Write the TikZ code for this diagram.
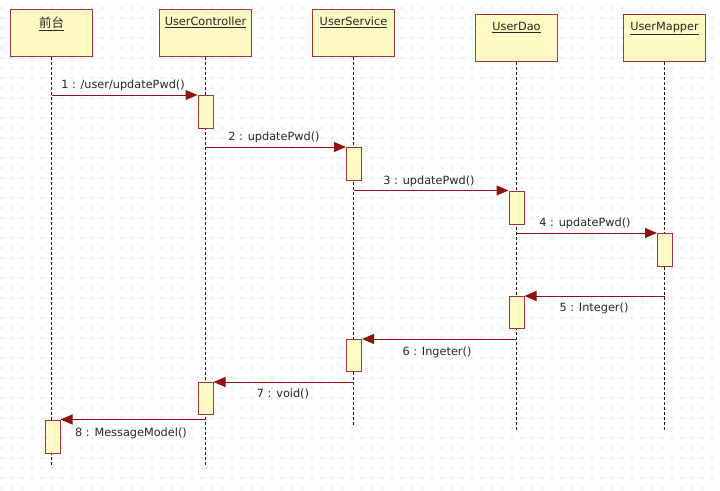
\documentclass[tikz,border=0pt]{standalone}
\usepackage{fontspec}
\setmainfont{DejaVu Sans}
\newfontfamily\cjk{Noto Sans CJK SC}
\usetikzlibrary{arrows.meta}
\definecolor{boxfill}{HTML}{FFFAC4}
\definecolor{boxdraw}{HTML}{A0353A}
\definecolor{msgcol}{HTML}{8E1414}
\begin{document}
\begin{tikzpicture}[x=1pt,y=-1pt, font=\fontsize{11.3}{13}\selectfont,
  head/.style={draw=boxdraw, fill=boxfill, line width=1pt, minimum width=82pt, minimum height=47pt, anchor=north west, inner sep=0pt},
  headtxt/.style={anchor=north, inner sep=0pt, yshift=-8pt, text=black!85},
  act/.style={draw=boxdraw, fill=boxfill, line width=1pt, minimum width=15pt, minimum height=33pt, anchor=north west, inner sep=0pt},
  life/.style={draw=black!90, dash pattern=on 3pt off 2pt, line width=1.2pt},
  msgline/.style={draw=msgcol, line width=1pt, -{Triangle[length=12pt,width=10pt]}},
  lbl/.style={text=black!85, inner sep=0pt}]
\fill[white] (0,0) rectangle (720,490);
\useasboundingbox (0,0) rectangle (720,490);
\foreach \x in {2,12,...,712} \foreach \y in {8,18,...,488} \fill[black!40] (\x,\y) circle (0.55pt);

% heads
\node[head] (h1) at (10,9) {};
\node[head, minimum width=92pt] (h2) at (159,9) {};
\node[head] (h3) at (312,9) {};
\node[head] (h4) at (475,14) {};
\node[head] (h5) at (623,14) {};
\node[headtxt, font=\fontsize{12.5}{14}\selectfont\cjk] (t1) at (h1.north) {\underline{前台}};
\node[headtxt] (t2) at (h2.north) {\underline{UserController}};
\node[headtxt] (t3) at (h3.north) {\underline{UserService}};
\node[headtxt] (t4) at (h4.north) {\underline{UserDao}};
\node[headtxt] (t5) at (h5.north) {\underline{UserMapper}};

% lifeline ends
\coordinate (e1) at (h1.south |- 0,467);
\coordinate (e2) at (h2.south |- 0,467);
\coordinate (e3) at (h3.south |- 0,425);
\coordinate (e4) at (h4.south |- 0,431);
\coordinate (e5) at (h5.south |- 0,431);
\draw[life] (h1.south) -- (e1);
\draw[life] (h2.south) -- (e2);
\draw[life] (h3.south) -- (e3);
\draw[life] (h4.south) -- (e4);
\draw[life] (h5.south) -- (e5);

% activations
\node[act] (a1) at (197.5,95) {};
\node[act] (a2) at (346,147) {};
\node[act] (a3) at (508.5,190.5) {};
\node[act] (a4) at (657,233) {};
\node[act, minimum height=32pt] (a5) at (508.5,296) {};
\node[act, minimum height=32pt] (a6) at (346,339) {};
\node[act, minimum height=32pt] (a7) at (197.5,382) {};
\node[act] (a8) at (44.5,419.5) {};

% message start points
\coordinate (s1) at (h1.south |- a1.north);
\coordinate (s2) at (h2.south |- a2.north);
\coordinate (s3) at (h3.south |- a3.north);
\coordinate (s4) at (h4.south |- a4.north);
\coordinate (s5) at (h5.south |- a5.north);
\coordinate (s6) at (h4.south |- a6.north);
\coordinate (s7) at (h3.south |- a7.north);
\coordinate (s8) at (h2.south |- a8.north);

\draw[msgline] (s1) -- (a1.north west);
\draw[msgline] (s2) -- (a2.north west);
\draw[msgline] (s3) -- (a3.north west);
\draw[msgline] (s4) -- (a4.north west);
\draw[msgline] (s5) -- (a5.north east);
\draw[msgline] (s6) -- (a6.north east);
\draw[msgline] (s7) -- (a7.north east);
\draw[msgline] (s8) -- (a8.north east);

% labels
\node[lbl] (l1) at (123,85) {1 : /user/updatePwd()};
\node[lbl] (l2) at (274,137) {2 : updatePwd()};
\node[lbl] (l3) at (429,181) {3 : updatePwd()};
\node[lbl] (l4) at (585,223) {4 : updatePwd()};
\node[lbl] (l5) at (594,308) {5 : Integer()};
\node[lbl] (l6) at (437,352) {6 : Ingeter()};
\node[lbl] (l7) at (283,394) {7 : void()};
\node[lbl] (l8) at (131,433) {8 : MessageModel()};
\end{tikzpicture}
\end{document}
